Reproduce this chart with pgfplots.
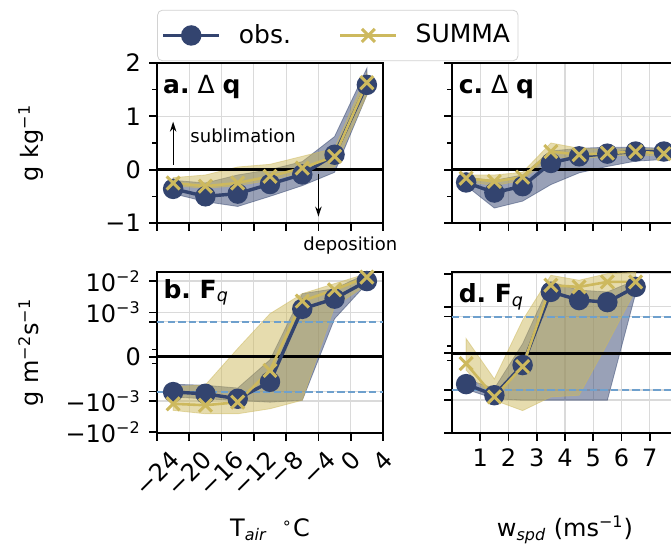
\documentclass[12pt,border=0pt]{standalone}
\usepackage{fontspec}
\setmainfont{DejaVu Sans}
\usepackage{graphicx}
\usepackage{pgfplots}
\pgfplotsset{compat=1.18}
\usepackage{pgfplotstable}
\usepgfplotslibrary{fillbetween}
\usetikzlibrary{arrows.meta}

\definecolor{obsc}{RGB}{51,68,111}
\definecolor{sumc}{RGB}{205,185,94}
\definecolor{dashc}{RGB}{110,160,205}
\definecolor{gridc}{RGB}{218,218,218}

% panel a: Delta q vs T_air
\pgfplotstableread{
x obs sum ol ou sl su
-22 -0.36 -0.25 -0.45 -0.20 -0.30 -0.15
-18 -0.50 -0.31 -0.60 -0.25 -0.35 -0.10
-14 -0.45 -0.25 -0.69 -0.10 -0.30 0.05
-10 -0.27 -0.125 -0.50 0.00 -0.20 0.10
-6 -0.09 0.03 -0.30 0.15 -0.05 0.25
-2 0.28 0.25 -0.05 0.62 0.05 0.40
2 1.59 1.63 1.40 1.90 1.40 1.80
}\ta
% panel c: Delta q vs wind speed
\pgfplotstableread{
x obs sum ol ou sl su
0.5 -0.24 -0.16 -0.30 -0.15 -0.22 -0.10
1.5 -0.43 -0.22 -0.72 -0.20 -0.30 -0.10
2.5 -0.31 -0.14 -0.59 -0.10 -0.20 -0.05
3.5 0.125 0.34 -0.28 0.35 0.25 0.50
4.5 0.25 0.28 -0.06 0.40 0.20 0.40
5.5 0.30 0.31 0.06 0.42 0.25 0.38
6.5 0.34 0.34 0.16 0.42 0.28 0.40
7.5 0.34 0.30 0.19 0.40 0.25 0.38
}\tc
% panel b: F_q vs T_air
\pgfplotstableread{
x obs sum ol ou sl su
-22 -5.2e-4 -1.23e-3 -7.5e-4 -3.96e-4 -1.99e-3 -4.3e-4
-18 -5.9e-4 -1.37e-3 -8.5e-4 -4.1e-4 -2.56e-3 -4.05e-4
-14 -8.5e-4 -1.09e-3 -9.7e-4 -4.5e-4 -2.56e-3 1.17e-4
-10 -3.6e-4 -1.97e-4 -1.09e-3 -4.5e-5 -1.77e-3 9.1e-4
-6 1.3e-3 2.3e-3 -9.5e-4 3.97e-3 -9.5e-4 3.97e-3
-2 2.75e-3 5.3e-3 6.3e-4 5.7e-3 1.54e-3 8.3e-3
2 1.0e-2 1.34e-2 8.3e-3 1.73e-2 7.7e-3 1.73e-2
}\tb
% panel d: F_q vs wind speed
\pgfplotstableread{
x obs sum ol ou sl su
0.5 -4.2e-4 -1.4e-4 -4.9e-4 -3.5e-4 -2.3e-4 2.0e-4
1.5 -7.2e-4 -8.1e-4 -9.1e-4 -4.8e-4 -1.02e-3 -3.5e-4
2.5 -1.6e-4 -1.8e-4 -1.02e-3 1.3e-4 -2.1e-3 4.5e-4
3.5 2.8e-3 4.45e-3 -1.02e-3 5.6e-3 -8.1e-4 8.9e-3
4.5 1.58e-3 3.97e-3 -1.02e-3 3.15e-3 -7.2e-4 6.3e-3
5.5 1.37e-3 5.6e-3 -1.02e-3 2.8e-3 1.3e-4 1.0e-2
6.5 3.97e-3 5.6e-3 2.5e-3 6.3e-3 3.15e-3 1.1e-2
}\td

\tikzset{ttl/.style={anchor=north west, inner sep=0pt, font=\fontsize{12.5}{15}\selectfont}}

\pgfplotsset{
  panel/.style={
    scale only axis, width=113pt, anchor=south west,
    tick align=outside, xtick pos=bottom, ytick pos=left,
    grid=major, major grid style={draw=gridc, line width=0.6pt},
    axis line style={line width=0.9pt},
    major tick length=3.9pt, minor tick length=2.3pt,
    tick style={black, line width=0.9pt},
    minor tick style={line width=0.7pt},
    ylabel style={at={(axis description cs:-0.5575,0.5)}, anchor=center},
    xlabel style={at={(axis description cs:0.5,-0.602)}, anchor=center},
    legend image code/.code={\draw[mark repeat=2,mark phase=2,##1] plot coordinates {(0pt,0pt)(14pt,0pt)(28pt,0pt)};},
  },
  symlog/.style={
    y coord trafo/.code={\begingroup\pgfkeys{/pgf/fpu=true,/pgf/fpu/output format=fixed}\pgfmathparse{(((##1)>0)-((##1)<0))*(1.1111*min(abs(##1),0.0005)/0.0005+log10(max(abs(##1),0.0005)/0.0005))}\pgfmathsmuggle\pgfmathresult\endgroup},
  },
  obsline/.style={color=obsc, line width=1.7pt, mark=*, mark size=4.25pt, mark options={solid, fill=obsc}},
  sumline/.style={color=sumc, line width=1.3pt, mark=x, mark size=4.6pt, mark options={solid, line width=1.5pt}},
  obsband/.style={fill=obsc, fill opacity=0.5, draw=obsc, draw opacity=0.5, line width=0.4pt, forget plot},
  sumband/.style={fill=sumc, fill opacity=0.5, draw=sumc, draw opacity=0.5, line width=0.4pt, forget plot},
  zeroline/.style={black, line width=1.35pt, forget plot},
  thrline/.style={dashc, line width=1pt, dash pattern=on 3.7pt off 1.6pt, forget plot},
}

\begin{document}
\begin{tikzpicture}

% ---------------- panel a ----------------
\begin{axis}[panel, at={(78.5pt,163.5pt)}, height=80pt,
  xmin=-24, xmax=4, ymin=-1, ymax=2,
  xtick={-24,-20,...,4}, xticklabel=\empty,
  ytick={-1,0,1,2}, yticklabels={−1,0,1,2},
  minor ytick={-0.5,0.5,1.5},
  ylabel={g kg\textsuperscript{−1}},
  clip=false,
  legend columns=2,
  legend style={at={(0.80,1.172)}, anchor=center, draw=gray!35, rounded corners=2.5pt,
    font=\fontsize{12.5}{15}\selectfont, inner xsep=2pt, inner ysep=5pt,
    /tikz/every odd column/.append style={column sep=7pt},
    /tikz/every even column/.append style={column sep=22pt}},
]
\addplot[draw=none, name path=aou, forget plot] table[x=x,y=ou]{\ta};
\addplot[draw=none, name path=aol, forget plot] table[x=x,y=ol]{\ta};
\addplot[obsband] fill between[of=aou and aol];
\addplot[draw=none, name path=asu, forget plot] table[x=x,y=su]{\ta};
\addplot[draw=none, name path=asl, forget plot] table[x=x,y=sl]{\ta};
\addplot[sumband] fill between[of=asu and asl];
\addplot[zeroline] coordinates {(-24,0) (4,0)};
\addplot[obsline] table[x=x,y=obs]{\ta};
\addlegendentry{obs.}
\addplot[sumline] table[x=x,y=sum]{\ta};
\addlegendentry{SUMMA}
\node[ttl, xshift=2.9pt, yshift=-6pt] at (rel axis cs:0,1) {{\bfseries a.}\ Δ\ {\bfseries q}};
\draw[line width=0.6pt, -{Stealth[length=5pt,width=3.2pt,fill=dashc]}] (axis cs:-22,0.09) -- (axis cs:-22,0.9);
\node[anchor=base west, inner sep=0pt, font=\fontsize{9}{11}\selectfont] at (axis cs:-19.9,0.506) {sublimation};
\draw[line width=0.6pt, -{Stealth[length=5pt,width=3.2pt,fill=dashc]}] (axis cs:-4,-0.09) -- (axis cs:-4,-0.88);
\node[anchor=base west, inner sep=0pt, font=\fontsize{9}{11}\selectfont] at (axis cs:-5.9,-1.51) {deposition};
\end{axis}

% ---------------- panel c ----------------
\begin{axis}[panel, at={(226pt,163.5pt)}, height=80pt,
  xmin=0, xmax=8, ymin=-1, ymax=2,
  xtick={1,...,7}, xticklabel=\empty,
  ytick={-1,0,1,2}, yticklabel=\empty,
  minor ytick={-0.5,0.5,1.5},
]
\addplot[draw=none, name path=cou, forget plot] table[x=x,y=ou]{\tc};
\addplot[draw=none, name path=col, forget plot] table[x=x,y=ol]{\tc};
\addplot[obsband] fill between[of=cou and col];
\addplot[draw=none, name path=csu, forget plot] table[x=x,y=su]{\tc};
\addplot[draw=none, name path=csl, forget plot] table[x=x,y=sl]{\tc};
\addplot[sumband] fill between[of=csu and csl];
\addplot[zeroline] coordinates {(0,0) (8,0)};
\addplot[obsline] table[x=x,y=obs]{\tc};
\addplot[sumline] table[x=x,y=sum]{\tc};
\node[ttl, xshift=3.2pt, yshift=-6pt] at (rel axis cs:0,1) {{\bfseries c.}\ Δ\ {\bfseries q}};
\end{axis}

% ---------------- panel b ----------------
\begin{axis}[panel, symlog, at={(78.5pt,58.5pt)}, height=80.5pt,
  xmin=-24, xmax=4, ymin=-0.0105, ymax=0.0195,
  xtick={-24,-20,...,4},
  xticklabels={\rotatebox{45}{−24},\rotatebox{45}{−20},\rotatebox{45}{−16},\rotatebox{45}{−12},\rotatebox{45}{−8},\rotatebox{45}{−4},\rotatebox{45}{0},\rotatebox{45}{4}},
  xticklabel style={anchor=north},
  ytick={-0.01,-0.001,-0.0005,0,0.0005,0.001,0.01},
  yticklabels={−10\textsuperscript{−2},−10\textsuperscript{−3},{},0,{},10\textsuperscript{−3},10\textsuperscript{−2}},
  minor ytick={-0.0001,0.0001},
  ylabel={g m\textsuperscript{−2}s\textsuperscript{−1}},
  xlabel={T\textsubscript{\itshape air}\ \ \textsuperscript{∘}C},
]
\addplot[draw=none, name path=bou, forget plot] table[x=x,y=ou]{\tb};
\addplot[draw=none, name path=bol, forget plot] table[x=x,y=ol]{\tb};
\addplot[obsband] fill between[of=bou and bol];
\addplot[draw=none, name path=bsu, forget plot] table[x=x,y=su]{\tb};
\addplot[draw=none, name path=bsl, forget plot] table[x=x,y=sl]{\tb};
\addplot[sumband] fill between[of=bsu and bsl];
\addplot[thrline] coordinates {(-24,0.0005) (4,0.0005)};
\addplot[thrline] coordinates {(-24,-0.0005) (4,-0.0005)};
\addplot[zeroline] coordinates {(-24,0) (4,0)};
\addplot[obsline] table[x=x,y=obs]{\tb};
\addplot[sumline] table[x=x,y=sum]{\tb};
\node[ttl, xshift=3.1pt, yshift=-3.4pt] at (rel axis cs:0,1) {{\bfseries b.\ F}\textsubscript{\itshape q}};
\end{axis}

% ---------------- panel d ----------------
\begin{axis}[panel, symlog, at={(226pt,58.5pt)}, height=80.5pt,
  xmin=0, xmax=8, ymin=-0.0100, ymax=0.0112,
  xtick={1,...,7}, xticklabels={1,2,3,4,5,6,7},
  ytick={-0.01,-0.001,-0.0005,0,0.0005,0.001,0.01},
  yticklabel=\empty,
  minor ytick={-0.0001,0.0001},
  xlabel={w\textsubscript{\itshape spd} (ms\textsuperscript{−1})},
]
\addplot[draw=none, name path=dou, forget plot] table[x=x,y=ou]{\td};
\addplot[draw=none, name path=dol, forget plot] table[x=x,y=ol]{\td};
\addplot[obsband] fill between[of=dou and dol];
\addplot[draw=none, name path=dsu, forget plot] table[x=x,y=su]{\td};
\addplot[draw=none, name path=dsl, forget plot] table[x=x,y=sl]{\td};
\addplot[sumband] fill between[of=dsu and dsl];
\addplot[thrline] coordinates {(0,0.0005) (8,0.0005)};
\addplot[thrline] coordinates {(0,-0.0005) (8,-0.0005)};
\addplot[zeroline] coordinates {(0,0) (8,0)};
\addplot[obsline] table[x=x,y=obs]{\td};
\addplot[sumline] table[x=x,y=sum]{\td};
\node[ttl, xshift=3.2pt, yshift=-5.6pt] at (rel axis cs:0,1) {{\bfseries d.\ F}\textsubscript{\itshape q}};
\end{axis}

\pgfresetboundingbox
\path[use as bounding box] (0,0) rectangle (335.5pt,275pt);
\end{tikzpicture}
\end{document}
